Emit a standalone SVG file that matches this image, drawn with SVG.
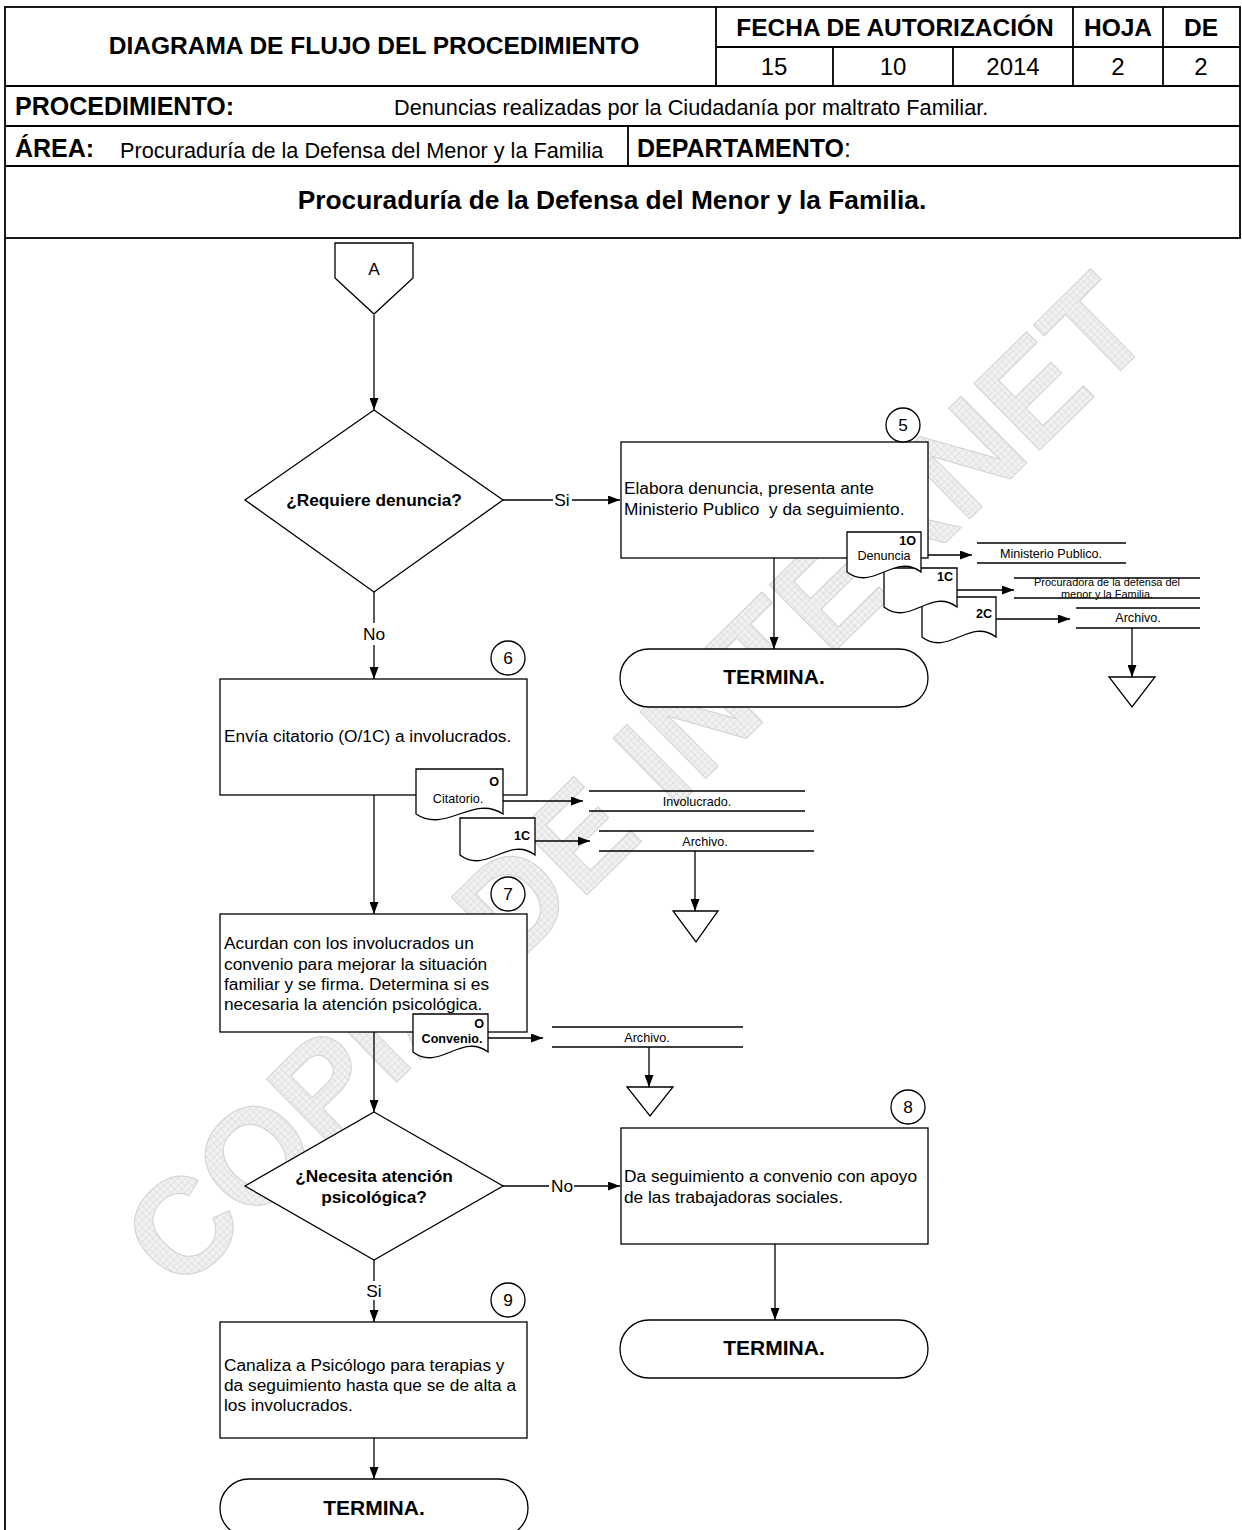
<svg xmlns="http://www.w3.org/2000/svg" width="1242" height="1530" viewBox="0 0 1242 1530">
<style>
.ln{stroke:#000;stroke-width:1.3;fill:none}
.hd{stroke:#000;stroke-width:1.8;fill:none}
.shp{fill:#fff;stroke:#000;stroke-width:1.3}
.con{stroke:#000;stroke-width:1.3;fill:none}
.arr{marker-end:url(#ah)}
text{font-family:"Liberation Sans",Arial,sans-serif;fill:#000}
.hb{font-size:24.5px;font-weight:bold}
.hl{font-size:25px;font-weight:bold}
.hr{font-size:21.7px}
.hn{font-size:24px}
.t{font-size:17.3px}
.tb{font-size:17.3px;font-weight:bold}
.term{font-size:21px;font-weight:bold}
.d{font-size:12.6px}
.db{font-size:12.6px;font-weight:bold}
.s{font-size:10.9px}
.m{text-anchor:middle}
.wm{font-size:136px;font-weight:bold;fill:url(#hatch);stroke:#d2d2d2;stroke-width:1}
</style>
<defs>
<marker id="ah" viewBox="0 0 12 9" markerWidth="12" markerHeight="9" refX="12" refY="4.5" orient="auto" markerUnits="userSpaceOnUse">
<path d="M0,0 L12,4.5 L0,9 Z" fill="#000"/>
</marker>
<pattern id="hatch" width="5" height="5" patternUnits="userSpaceOnUse">
<rect width="5" height="5" fill="#f1f1f1"/>
<path d="M0,0 H5 M0,0 V5" stroke="#d6d6d6" stroke-width="1"/>
</pattern>
</defs>
<rect x="0" y="0" width="1242" height="1530" fill="#fff"/>
<g id="watermark">
<text class="wm" transform="translate(180,1295) rotate(-44.5)">COPIA DE INTERNET</text>
</g>
<g id="header">
<rect class="hd" x="5" y="7" width="1235" height="231"/>
<path class="hd" d="M5,86 H1240 M5,126 H1240 M5,166 H1240 M716,7 V86 M716,47 H1240 M1073,7 V86 M1163,7 V86 M833,47 V86 M953,47 V86 M628,126 V166 M5,238 V1530"/>
<text class="hb m" x="374" y="54">DIAGRAMA DE FLUJO DEL PROCEDIMIENTO</text>
<text class="hb m" x="895" y="36">FECHA DE AUTORIZACIÓN</text>
<text class="hb m" x="1118" y="36">HOJA</text>
<text class="hb m" x="1201" y="36">DE</text>
<text class="hn m" x="774" y="75">15</text>
<text class="hn m" x="893" y="75">10</text>
<text class="hn m" x="1013" y="75">2014</text>
<text class="hn m" x="1118" y="75">2</text>
<text class="hn m" x="1201" y="75">2</text>
<text class="hl" x="15" y="115">PROCEDIMIENTO:</text>
<text class="hr" x="394" y="115">Denuncias realizadas por la Ciudadanía por maltrato Familiar.</text>
<text class="hl" x="15" y="157">ÁREA:</text>
<text class="hr" x="120" y="158">Procuraduría de la Defensa del Menor y la Familia</text>
<text class="hl" x="637" y="157">DEPARTAMENTO<tspan font-weight="normal">:</tspan></text>
<text class="hb m" x="612" y="209" style="font-size:26.3px">Procuraduría de la Defensa del Menor y la Familia.</text>
</g>
<g id="connectors">
<path class="con arr" d="M374,315 V410"/>
<path class="con" d="M503,500 H553"/>
<path class="con arr" d="M572,500 H620"/>
<text class="t m" x="562" y="506">Si</text>
<path class="con arr" d="M774,558 V649"/>
<path class="con" d="M374,592 V623"/>
<path class="con arr" d="M374,645 V679"/>
<text class="t m" x="374" y="640">No</text>
<path class="con arr" d="M374,795 V914"/>
<path class="con arr" d="M374,1032 V1112"/>
<path class="con" d="M503,1186 H549"/>
<path class="con arr" d="M574,1186 H620"/>
<text class="t m" x="562" y="1192">No</text>
<path class="con arr" d="M775,1244 V1320"/>
<path class="con" d="M374,1260 V1281"/>
<path class="con arr" d="M374,1300 V1322"/>
<text class="t m" x="374" y="1297">Si</text>
<path class="con arr" d="M374,1438 V1479"/>
<path class="con arr" d="M921,555 H972"/>
<path class="con arr" d="M957,590 H1014"/>
<path class="con arr" d="M996,619 H1070"/>
<path class="con arr" d="M1132,628 V677"/>
<path class="con arr" d="M503,801 H583"/>
<path class="con arr" d="M535,841 H590"/>
<path class="con arr" d="M695,851 V911"/>
<path class="con arr" d="M488,1038 H543"/>
<path class="con arr" d="M649,1047 V1087"/>
</g>
<g id="connector-A">
<path class="shp" d="M335,243 H413 V278 L374,314 L335,278 Z"/>
<text class="t m" x="374" y="275">A</text>
</g>
<g id="decision-1">
<path class="shp" d="M374,410 L503,500 L374,592 L245,500 Z"/>
<text class="tb m" x="374" y="506">¿Requiere denuncia?</text>
</g>
<g id="step-5">
<rect class="shp" x="621" y="442" width="307" height="116"/>
<text class="t" x="624" y="494">Elabora denuncia, presenta ante</text>
<text class="t" x="624" y="515" xml:space="preserve">Ministerio Publico  y da seguimiento.</text>
<circle class="shp" cx="903" cy="425" r="17"/>
<text class="t m" x="903" y="431">5</text>
</g>
<g id="doc-5-2C">
<path class="shp" d="M922,597 H996 V637 C970,617 948,657 922,637 Z"/>
<text class="db" x="992" y="618" text-anchor="end">2C</text>
</g>
<g id="doc-5-1C">
<path class="shp" d="M884,568 H957 V607 C931,587 910,627 884,607 Z"/>
<text class="db" x="953" y="581" text-anchor="end">1C</text>
</g>
<g id="doc-5-denuncia">
<path class="shp" d="M847,532 H921 V572 C895,552 873,592 847,572 Z"/>
<text class="db" x="916" y="545" text-anchor="end">1O</text>
<text class="d m" x="884" y="560">Denuncia</text>
</g>
<g id="dest-ministerio">
<path class="ln" d="M977,543 H1126 M977,563 H1126"/>
<text class="d m" x="1051" y="558">Ministerio Publico.</text>
</g>
<g id="dest-procuradora">
<path class="ln" d="M1014,578 H1200 M1014,598 H1200"/>
<text class="s m" x="1107" y="586">Procuradora de la defensa del</text>
<text class="s m" x="1107" y="598">menor y la Familia.</text>
</g>
<g id="dest-archivo-1">
<path class="ln" d="M1076,608 H1200 M1076,628 H1200"/>
<text class="d m" x="1138" y="622">Archivo.</text>
<path class="shp" d="M1109,677 H1155 L1132,707 Z"/>
</g>
<g id="terminal-1">
<rect class="shp" x="620" y="649" width="308" height="58" rx="29" ry="29"/>
<text class="term m" x="774" y="684">TERMINA.</text>
</g>
<g id="step-6">
<rect class="shp" x="220" y="679" width="307" height="116"/>
<text class="t" x="224" y="742">Envía citatorio (O/1C) a involucrados.</text>
<circle class="shp" cx="508" cy="658" r="17"/>
<text class="t m" x="508" y="664">6</text>
</g>
<g id="doc-6-1C">
<path class="shp" d="M460,818 H535 V855 C509,835 486,875 460,855 Z"/>
<text class="db" x="530" y="840" text-anchor="end">1C</text>
</g>
<g id="doc-6-citatorio">
<path class="shp" d="M416,769 H503 V814 C473,794 446,834 416,814 Z"/>
<text class="db" x="499" y="786" text-anchor="end">O</text>
<text class="d m" x="458" y="803">Citatorio.</text>
</g>
<g id="dest-involucrado">
<path class="ln" d="M589,791 H805 M589,811 H805"/>
<text class="d m" x="697" y="806">Involucrado.</text>
</g>
<g id="dest-archivo-2">
<path class="ln" d="M599,831 H814 M599,851 H814"/>
<text class="d m" x="705" y="846">Archivo.</text>
<path class="shp" d="M673,911 H718 L696,942 Z"/>
</g>
<g id="step-7">
<rect class="shp" x="220" y="914" width="307" height="118"/>
<text class="t" x="224" y="949">Acurdan con los involucrados un</text>
<text class="t" x="224" y="970">convenio para mejorar la situación</text>
<text class="t" x="224" y="990">familiar y se firma. Determina si es</text>
<text class="t" x="224" y="1010">necesaria la atención psicológica.</text>
<circle class="shp" cx="508" cy="894" r="17"/>
<text class="t m" x="508" y="900">7</text>
</g>
<g id="doc-7-convenio">
<path class="shp" d="M413,1014 H488 V1052 C462,1032 439,1072 413,1052 Z"/>
<text class="db" x="484" y="1028" text-anchor="end">O</text>
<text class="db m" x="452" y="1043">Convenio.</text>
</g>
<g id="dest-archivo-3">
<path class="ln" d="M552,1027 H743 M552,1047 H743"/>
<text class="d m" x="647" y="1042">Archivo.</text>
<path class="shp" d="M627,1087 H673 L650,1116 Z"/>
</g>
<g id="decision-2">
<path class="shp" d="M374,1112 L503,1186 L374,1260 L245,1186 Z"/>
<text class="tb m" x="374" y="1182">¿Necesita atención</text>
<text class="tb m" x="374" y="1203">psicológica?</text>
</g>
<g id="step-8">
<rect class="shp" x="621" y="1128" width="307" height="116"/>
<text class="t" x="624" y="1182">Da seguimiento a convenio con apoyo</text>
<text class="t" x="624" y="1203">de las trabajadoras sociales.</text>
<circle class="shp" cx="908" cy="1107" r="17"/>
<text class="t m" x="908" y="1113">8</text>
</g>
<g id="terminal-2">
<rect class="shp" x="620" y="1320" width="308" height="58" rx="29" ry="29"/>
<text class="term m" x="774" y="1355">TERMINA.</text>
</g>
<g id="step-9">
<rect class="shp" x="220" y="1322" width="307" height="116"/>
<text class="t" x="224" y="1371">Canaliza a Psicólogo para terapias y</text>
<text class="t" x="224" y="1391">da seguimiento hasta que se de alta a</text>
<text class="t" x="224" y="1411">los involucrados.</text>
<circle class="shp" cx="508" cy="1300" r="17"/>
<text class="t m" x="508" y="1306">9</text>
</g>
<g id="terminal-3">
<rect class="shp" x="220" y="1479" width="308" height="58" rx="29" ry="29"/>
<text class="term m" x="374" y="1515">TERMINA.</text>
</g>
</svg>
